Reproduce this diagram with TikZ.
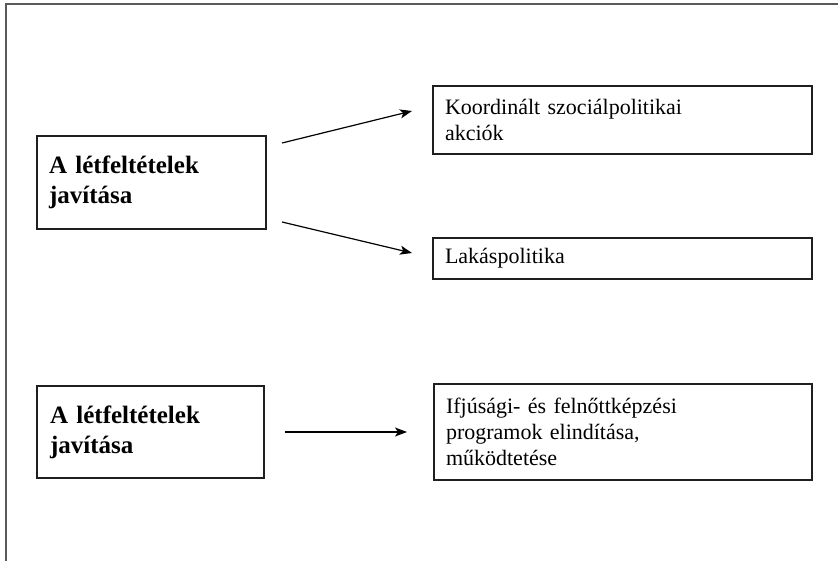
\documentclass[tikz,border=0pt]{standalone}
\usepackage{fontspec}
\setmainfont{Liberation Serif}
\usetikzlibrary{arrows.meta}
\begin{document}
\begin{tikzpicture}[x=1pt,y=-1pt,
  box/.style={draw=black!88, line width=1.8pt, inner xsep=0pt, inner ysep=0pt, align=left},
  bigbox/.style={box, font=\fontsize{25}{30}\selectfont\bfseries},
  smallbox/.style={box, font=\fontsize{22}{26}\selectfont},
  conn/.style={line width=1.2pt, -{Stealth[length=12pt,width=9pt,inset=3pt]}},
  frame/.style={draw=black!65, line width=1.2pt}]
\useasboundingbox (0,0) rectangle (838,561);
\draw[frame] (6,561) -- (6,4) -- (838,4);
\node[bigbox, minimum width=229pt, minimum height=93pt, text width=205pt] (a1) at (151.5,182.5) {A létfeltételek\\javítása};
\node[bigbox, minimum width=227pt, minimum height=92pt, text width=201pt] (a2) at (150.5,432) {A létfeltételek\\javítása};
\node[smallbox, minimum width=379pt, minimum height=68pt, text width=355pt] (b1) at (622.5,120) {Koordinált szociálpolitikai\\akciók};
\node[smallbox, minimum width=379pt, minimum height=41pt, text width=355pt] (b2) at (622.5,258.5) {Lakáspolitika};
\node[smallbox, minimum width=378pt, minimum height=96pt, text width=354pt] (b3) at (623,432) {Ifjúsági- és felnőttképzési\\programok elindítása,\\működtetése};
\coordinate (s1) at (282,143);
\coordinate (e1) at (412,111);
\coordinate (s2) at (282,222);
\coordinate (e2) at (412,253);
\coordinate (s3) at (285,432);
\coordinate (e3) at (407,432);
\draw[conn] (s1) -- (e1);
\draw[conn] (s2) -- (e2);
\draw[conn] (s3) -- (e3);
\end{tikzpicture}
\end{document}
